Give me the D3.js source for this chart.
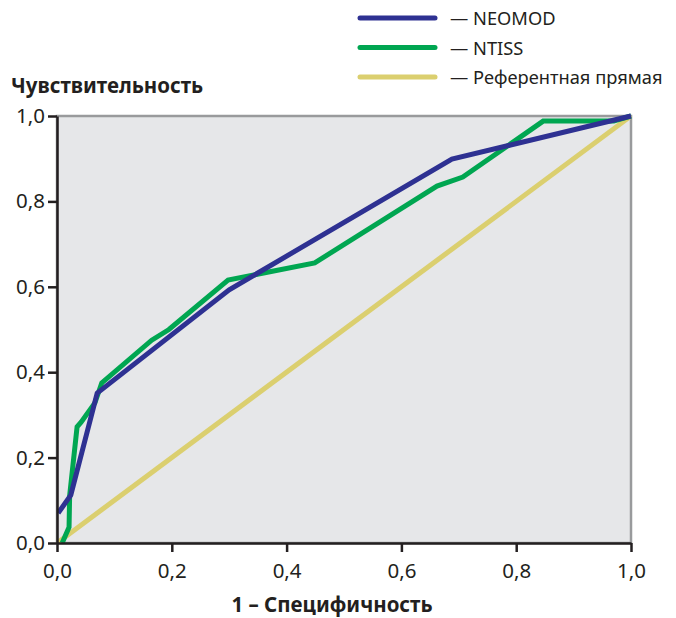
<!DOCTYPE html>
<html><head><meta charset="utf-8">
<script src="https://cdn.jsdelivr.net/npm/d3@7"></script>
<style>
body{margin:0;background:#fff;}
text{font-family:"Noto Sans",sans-serif;fill:#231f20;}
</style></head>
<body><svg id="c" width="676" height="618"></svg>
<script>
const seriesNames = ["NEOMOD", "NTISS", "Референтная прямая"];
const seriesColors = ["#2e3192", "#00a651", "#dbcf6f"];
const neomodFPR = [0.002, 0.024, 0.07, 0.30, 0.688, 1.0];
const neomodTPR = [0.07, 0.112, 0.351, 0.593, 0.899, 1.0];
const ntissFPR = [0.009, 0.021, 0.022, 0.035, 0.042, 0.066, 0.078, 0.165, 0.195, 0.298, 0.449, 0.662, 0.707, 0.847, 0.97, 1.0];
const ntissTPR = [0.0, 0.037, 0.11, 0.272, 0.283, 0.328, 0.375, 0.475, 0.5, 0.616, 0.656, 0.836, 0.857, 0.988, 0.988, 1.0];
const refFPR = [0, 1];
const refTPR = [0, 1];
const tickValues = [0, 0.2, 0.4, 0.6, 0.8, 1.0];
const tickLabels = ["0,0", "0,2", "0,4", "0,6", "0,8", "1,0"];
const xTitle = "1 – Специфичность";
const yTitle = "Чувствительность";

const svg = d3.select("#c");
const m = {l:57, t:116, r:45, b:75};
const W = 676 - m.l - m.r, H = 618 - m.t - m.b;
const x = d3.scaleLinear().domain([0,1]).range([m.l, m.l+W]);
const y = d3.scaleLinear().domain([0,1]).range([m.t+H, m.t]);

svg.append("rect").attr("x", x(0)).attr("y", y(1)).attr("width", x(1)-x(0)).attr("height", y(0)-y(1))
  .attr("fill", "#e6e7e9").attr("stroke", "#999a9c").attr("stroke-width", 2.5);

const series = [
  {fx: refFPR, ty: refTPR, c: seriesColors[2]},
  {fx: ntissFPR, ty: ntissTPR, c: seriesColors[1]},
  {fx: neomodFPR, ty: neomodTPR, c: seriesColors[0]}
];
const line = d3.line().x(d=>x(d[0])).y(d=>y(d[1]));
svg.append("clipPath").attr("id","cp").append("rect")
  .attr("x", x(0)).attr("y", y(1)-3).attr("width", x(1)-x(0)+1).attr("height", y(0)-y(1)+3);
series.forEach(s => {
  svg.append("path").datum(d3.zip(s.fx, s.ty)).attr("d", line)
    .attr("fill","none").attr("stroke", s.c).attr("stroke-width", 5)
    .attr("stroke-linejoin","miter").attr("clip-path","url(#cp)");
});

const xAxis = svg.append("g").attr("transform", `translate(0,${y(0)})`)
  .call(d3.axisBottom(x).tickValues(tickValues).tickFormat((d,i)=>tickLabels[i]).tickSize(9).tickPadding(11).tickSizeOuter(0));
const yAxis = svg.append("g").attr("transform", `translate(${x(0)},0)`)
  .call(d3.axisLeft(y).tickValues(tickValues).tickFormat((d,i)=>tickLabels[i]).tickSize(9).tickPadding(3).tickSizeOuter(0));
[xAxis, yAxis].forEach(a => {
  a.select(".domain").attr("stroke","#231f20").attr("stroke-width",2.5);
  a.selectAll(".tick line").attr("stroke","#231f20").attr("stroke-width",2.5);
  a.selectAll(".tick text").attr("font-size", 20.5).attr("fill","#231f20").style("font-family","'Noto Sans',sans-serif");
});

svg.append("text").attr("x", x(0.5)-12).attr("y", 612).attr("text-anchor","middle")
  .attr("font-size", 20.5).attr("font-weight","bold").text(xTitle);
svg.append("text").attr("x", 11).attr("y", 93)
  .attr("font-size", 20.5).attr("font-weight","bold").text(yTitle);

const leg = svg.append("g");
seriesNames.forEach((n,i) => {
  const yy = 18 + i*29.5;
  leg.append("line").attr("x1",360).attr("x2",435).attr("y1",yy).attr("y2",yy)
    .attr("stroke", seriesColors[i]).attr("stroke-width",5).attr("stroke-linecap","round");
  leg.append("text").attr("x",450).attr("y",yy+7).attr("font-size",18.3).text("— " + n);
});
</script></body></html>
